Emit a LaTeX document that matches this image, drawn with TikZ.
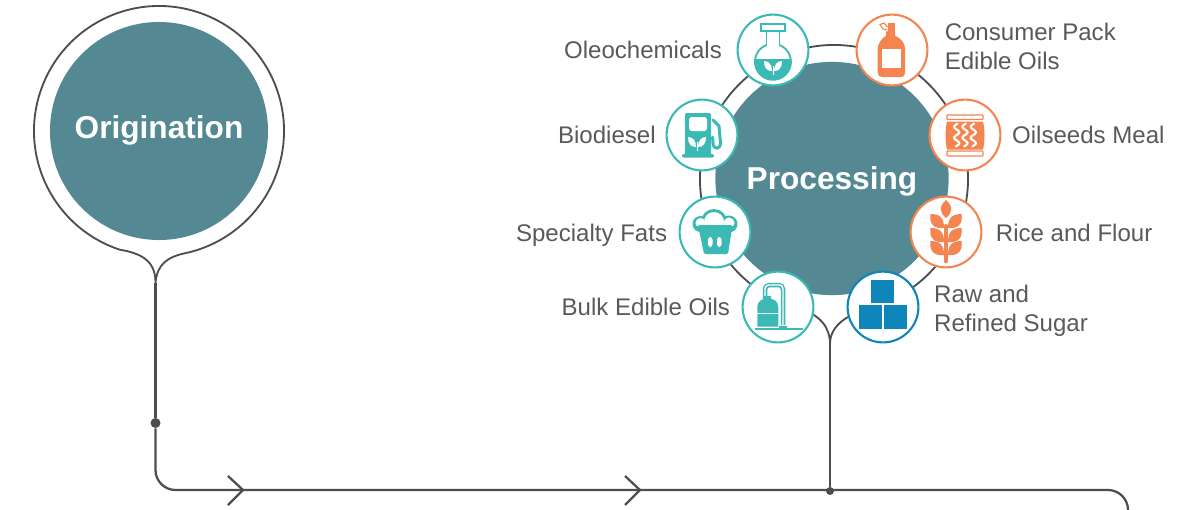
\documentclass[tikz,border=0pt]{standalone}
\usepackage{fontspec}
\setmainfont{Liberation Sans}
\usetikzlibrary{calc,positioning}

\definecolor{discteal}{HTML}{548893}
\definecolor{iconteal}{HTML}{3BBAB5}
\definecolor{iconorange}{HTML}{F58550}
\definecolor{iconblue}{HTML}{0F86BA}
\definecolor{linegrey}{HTML}{4D4D4F}
\definecolor{labelgrey}{HTML}{58595B}

\tikzset{
    discnode/.style={circle, fill=discteal, text=white, inner sep=0pt, font=\fontsize{22.5}{26}\selectfont\bfseries},
    iconnode/.style={circle, fill=white, line width=1.5pt, minimum size=1.77cm, inner sep=0pt},
    labelnode/.style={text=labelgrey, inner sep=0pt, align=left, font=\fontsize{17.1}{20.6}\selectfont},
    dotnode/.style={circle, fill=linegrey, inner sep=0pt},
    thinline/.style={draw=linegrey, line width=1.3pt},
    mainline/.style={draw=linegrey, line width=1.6pt}
}

% two white leaves, used by the flask and the pump
\newcommand{\sproutat}[2]{
    \begin{scope}[shift={(#1,#2)}]
        \foreach \s in {-1,1} {
            \fill[white, xscale=\s] (1,-4) .. controls (6,-4) and (9,-1) .. (9,6) .. controls (4,6) and (1,2) .. cycle;
        }
        \fill[white] (-0.5,-8) rectangle (0.5,1);
    \end{scope}
}

\begin{document}
\begin{tikzpicture}[x=0.025cm,y=0.025cm]
    \useasboundingbox (0,0) rectangle (1195,509);

    % origination
    \node[discnode, minimum size=5.45cm, text depth=6pt] (origination) at (159,378) {Origination};
    \coordinate (origtail) at (155.5,226);
    \coordinate (origleft) at ($(origination)+(251.8:125)$);
    \coordinate (origright) at ($(origination)+(281.5:125)$);
    \draw[thinline] (origtail) .. controls (155.5,245) and (146,255) .. (origleft)
        arc [start angle=251.8, end angle=-78.5, radius=125]
        .. controls (168,252) and (157,245) .. (origtail);

    % main line
    \node[dotnode, minimum size=0.25cm] (origdot) at (155.5,86) {};
    \coordinate (linecorner) at (1128,19);
    \coordinate (lineend) at (1128,0);
    \draw[draw=linegrey, line width=1.9pt] (origtail) -- (origdot);
    \draw[mainline, rounded corners=0.5cm] (origdot) |- (linecorner) -- (lineend);
    \foreach \x in {243,640} {
        \draw[mainline] (\x-15,33) -- (\x,19) -- (\x-15,4);
    }

    % processing
    \node[discnode, minimum size=5.83cm, text depth=0pt] (processing) at (832,330.5) {Processing};
    \coordinate (prochub) at (834,330);
    \coordinate (proctail) at (830,165);
    \coordinate (procdot) at (830,18);
    \coordinate (procleft) at ($(prochub)+(255:134)$);
    \coordinate (procright) at ($(prochub)+(285:134)$);
    \draw[thinline] (proctail) .. controls (830,182) and (820,194) .. (procleft)
        arc [start angle=255, end angle=-75, radius=134]
        .. controls (850,195) and (830,185) .. (proctail);
    \node[dotnode, minimum size=0.2cm] (prociddot) at (procdot) {};
    \draw[draw=linegrey, line width=1.9pt] (proctail) -- (prociddot);

    % icon circles
    \node[iconnode, draw=iconteal] (flask) at (773,459) {};
    \node[iconnode, draw=iconteal] (pump) at (702,374) {};
    \node[iconnode, draw=iconteal] (muffin) at (715,277) {};
    \node[iconnode, draw=iconteal] (tank) at (778,202) {};
    \node[iconnode, draw=iconorange] (bottle) at (892,459) {};
    \node[iconnode, draw=iconorange] (bag) at (965,374) {};
    \node[iconnode, draw=iconorange] (wheat) at (946,277) {};
    \node[iconnode, draw=iconblue] (blocks) at (883,202) {};

    % labels
    \node[labelnode, left=0.36cm of flask] (oleolabel) {Oleochemicals};
    \node[labelnode, left=0.24cm of pump] (diesellabel) {Biodiesel};
    \node[labelnode, left=0.28cm of muffin, yshift=-2pt] (fatslabel) {Specialty Fats};
    \node[labelnode, left=0.28cm of tank] (bulklabel) {Bulk Edible Oils};
    \node[labelnode, right=0.4cm of bottle, yshift=2.4pt] (packlabel) {Consumer Pack\\Edible Oils};
    \node[labelnode, right=0.26cm of bag] (meallabel) {Oilseeds Meal};
    \node[labelnode, right=0.33cm of wheat, yshift=-0.7pt] (ricelabel) {Rice and Flour};
    \node[labelnode, right=0.36cm of blocks, yshift=-2.6pt] (sugarlabel) {Raw and\\Refined Sugar};

    % flask
    \begin{scope}[shift={(flask)}]
        \draw[iconteal, line width=1.3pt, fill=white] (-12,26) rectangle (12,19);
        \draw[iconteal, line width=1.3pt] (-6.5,19) -- (-6.5,5) (6.5,19) -- (6.5,5);
        \draw[iconteal, line width=1.3pt] (-6.5,5) arc [start angle=111, end angle=429, radius=18];
        \fill[iconteal] (-18,-9) arc [start angle=171, end angle=369, radius=18.2] -- cycle;
        \sproutat{0}{-17}
    \end{scope}

    % pump
    \begin{scope}[shift={(pump)}]
        \fill[iconteal, rounded corners=1pt] (-17,22) rectangle (9,-20);
        \fill[iconteal, rounded corners=1pt] (-20,-19) rectangle (12,-22.5);
        \fill[white, rounded corners=2pt] (-13,18) rectangle (5,4);
        \draw[iconteal, line width=2.1pt, line cap=round, line join=round] (11,15) -- (17,9) -- (18.5,-8) .. controls (18.5,-15) and (11,-15) .. (11,-8) -- (10.5,-2);
        \sproutat{-5}{-8}
    \end{scope}

    % muffin
    \begin{scope}[shift={(muffin)}]
        \fill[iconteal] (-14.5,8) circle [radius=8];
        \fill[iconteal] (-1,10) circle [radius=13];
        \fill[iconteal] (14,8) circle [radius=8.5];
        \begin{scope}
            \clip (-25,7) rectangle (25,25);
            \fill[white] (-14.5,9) circle [radius=5];
            \fill[white] (-1,10) circle [radius=10];
            \fill[white] (14,9) circle [radius=5.5];
        \end{scope}
        \fill[iconteal, rounded corners=1pt] (-17,7) -- (17.5,7) -- (13,-22) -- (-11,-22) -- cycle;
        \fill[white, rounded corners=2pt] (-7,-5) rectangle (-2.5,-15);
        \fill[white, rounded corners=2pt] (2,-5) rectangle (6.5,-15);
    \end{scope}

    % tank
    \begin{scope}[shift={(tank)}]
        \draw[iconteal, line width=3.2pt, rounded corners=3pt] (-13,6) -- (-13,22) -- (5,22) -- (5,-18);
        \draw[white, line width=1pt, rounded corners=2.5pt] (-13,4) -- (-13,22) -- (5,22) -- (5,-18);
        \fill[iconteal] (-20.7,-19.5) -- (-20.7,0) .. controls (-20.7,6) and (-15,8) .. (-14,8) -- (-14,11) -- (-7,11) -- (-7,8) .. controls (-5,8) and (0.3,6) .. (0.3,0) -- (0.3,-19.5) -- cycle;
        \fill[white] (-20.7,-5.5) rectangle (0.3,-6.8);
        \fill[iconteal] (0.5,-19) rectangle (9,-21);
        \fill[iconteal] (-23,-20.7) rectangle (25,-23);
    \end{scope}

    % bottle
    \begin{scope}[shift={(bottle)}]
        \fill[iconorange] (-4.5,27) rectangle (3,18);
        \fill[iconorange] (-6,18.5) -- (3,18.5) -- (3,14.5) .. controls (9,11) and (13,8) .. (13,0) -- (13,-23) .. controls (13,-26) and (11,-27) .. (9,-27) -- (-10,-27) .. controls (-12,-27) and (-14.3,-26) .. (-14.3,-23) -- (-14.3,0) .. controls (-14.3,8) and (-10,11) .. (-6,14.5) -- cycle;
        \fill[white] (-10.3,1) rectangle (9,-17.7);
        \draw[iconorange, line width=0.8pt] (-4.5,23) -- (-8,27) -- (-12,25.5) -- (-9,21) -- (-4.5,20);
    \end{scope}

    % bag
    \begin{scope}[shift={(bag)}]
        \draw[iconorange, line width=0.8pt, fill=white, rounded corners=0.5pt] (-18,20) rectangle (18,15.5);
        \draw[iconorange, line width=0.8pt, fill=white, rounded corners=0.5pt] (-18,-16) rectangle (18,-21);
        \fill[iconorange] (-18,13.5) .. controls (-20,5) and (-20,-6) .. (-18,-14.5) -- (18,-14.5) .. controls (20,-6) and (20,5) .. (18,13.5) -- cycle;
        \foreach \c in {-8.3,0,8.3} {
            \draw[white, line width=1.5pt, line cap=round] plot[domain=-11.5:11.5, samples=30, smooth] ({\c+2.6*sin(\x*33)}, \x);
        }
    \end{scope}

    % wheat
    \begin{scope}[shift={(wheat)}]
        \fill[iconorange] (0,32) .. controls (8,25) and (6,19) .. (0,14) .. controls (-6,19) and (-8,25) .. cycle;
        \draw[iconorange, line width=2.8pt, line cap=round] (0,6) -- (0,-29.5);
        \foreach \s in {-1,1} {
            \foreach \y in {4,-10,-23} {
                \fill[iconorange, xscale=\s] (2,\y) .. controls (12,\y-1) and (17,\y+4) .. (15.5,\y+14) .. controls (6,\y+14) and (2,\y+10) .. cycle;
            }
        }
    \end{scope}

    % blocks
    \begin{scope}[shift={(blocks)}]
        \fill[iconblue] (-12,27) rectangle (11,3.7);
        \fill[iconblue] (-24,2) rectangle (-1,-21.7);
        \fill[iconblue] (1,2) rectangle (24,-21.7);
    \end{scope}
\end{tikzpicture}
\end{document}
